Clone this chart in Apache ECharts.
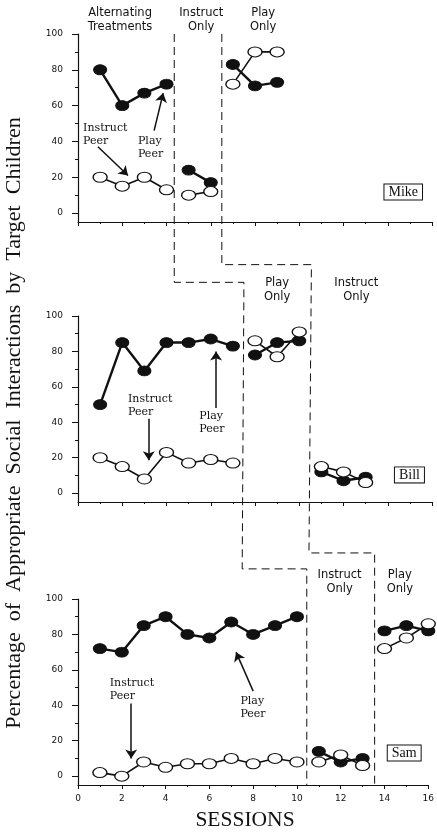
<!DOCTYPE html>
<html>
<head>
<meta charset="utf-8">
<script src="https://cdn.jsdelivr.net/npm/echarts@6/dist/echarts.min.js"></script>
<style>
html, body { margin: 0; padding: 0; background: #fff; }
#chart { width: 437px; height: 833px; }
</style>
</head>
<body>
<div id="chart"></div>
<script>
// --- data (percent per session) ---
var mikeSessions = [1, 2, 3, 4, 5, 6, 7, 8, 9];
var mikeFilled   = [80, 60, 67, 72, 24, 17, 83, 71, 73];
var mikeOpen     = [20, 15, 20, 13, 10, 12, 72, 90, 90];
var mikeBreaks   = [4, 6];   // last session of a phase

var billSessions = [1, 2, 3, 4, 5, 6, 7, 8, 9, 10, 11, 12, 13];
var billFilled   = [50, 85, 69, 85, 85, 87, 83, 78, 85, 86, 12, 7, 9];
var billOpen     = [20, 15, 8, 23, 17, 19, 17, 86, 77, 91, 15, 12, 6];
var billBreaks   = [7, 10];

var samSessions = [1, 2, 3, 4, 5, 6, 7, 8, 9, 10, 11, 12, 13, 14, 15, 16];
var samFilled   = [72, 70, 85, 90, 80, 78, 87, 80, 85, 90, 14, 8, 10, 82, 85, 82];
var samOpen     = [2, 0, 8, 5, 7, 7, 10, 7, 10, 8, 8, 12, 6, 72, 78, 86];
var samBreaks   = [10, 13];

var childNames = ['Mike', 'Bill', 'Sam'];
var phaseNames = [
  ['Alternating\nTreatments', 'Instruct\nOnly', 'Play\nOnly'],
  ['Play\nOnly', 'Instruct\nOnly'],
  ['Instruct\nOnly', 'Play\nOnly']
];
var yTickValues  = [0, 20, 40, 60, 80, 100];
var yMinorValues = [10, 30, 50, 70, 90];

// --- layout ---
var LEFT = 78, WIDTH = 354;
var tops = [34, 316, 599];
var heights = [188, 186, 186];
var ink = '#111';

// session where each dashed phase line runs, per panel
var phaseLines = [[4.35, 6.5], [7.5, 10.55], [10.45, 13.55]];
// y level (in next panel's units) of the horizontal steps
var stepLevels = [[119, 117], [129, 126]];
// header positions: [session center] and y value of the block center
var headerX = [[1.9, 5.57, 8.37], [9.0, 12.58], [11.95, 14.7]];
var headerY = [107.8, 114.5, 109.4];
// name boxes [session, value]
var namePos = [[14.7, 11.7], [14.98, 10.3], [14.9, 13]];
// annotation text [panel, text, session(left), value(top)]
var notes = [
  [0, 'Instruct\nPeer', 0.23, 51],
  [0, 'Play\nPeer', 2.71, 44],
  [1, 'Instruct\nPeer', 2.26, 57],
  [1, 'Play\nPeer', 5.48, 47],
  [2, 'Instruct\nPeer', 1.45, 56],
  [2, 'Play\nPeer', 7.42, 46]
];
// arrows [from, to] per panel
var arrows = [
  [[[0.9, 37], [2.26, 21]], [[3.44, 46], [3.85, 67]]],
  [[[3.2, 42], [3.2, 18.5]], [[6.24, 48], [6.24, 80]]],
  [[[2.43, 41], [2.43, 10]], [[8.0, 48], [7.22, 70]]]
];

function toData(sessions, values, breaks) {
  var out = [];
  for (var i = 0; i < sessions.length; i++) {
    out.push([sessions[i], values[i]]);
    if (breaks.indexOf(sessions[i]) >= 0) {
      out.push([sessions[i] + 0.5, '-']);
    }
  }
  return out;
}

var panels = [
  {filled: toData(mikeSessions, mikeFilled, mikeBreaks), open: toData(mikeSessions, mikeOpen, mikeBreaks)},
  {filled: toData(billSessions, billFilled, billBreaks), open: toData(billSessions, billOpen, billBreaks)},
  {filled: toData(samSessions, samFilled, samBreaks), open: toData(samSessions, samOpen, samBreaks)}
];

var grids = [], xAxes = [], yAxes = [], series = [];
for (var i = 0; i < 3; i++) {
  grids.push({left: LEFT, top: tops[i], width: WIDTH, height: heights[i]});
  xAxes.push({
    type: 'value', gridIndex: i, min: 0, max: 16, interval: 2,
    axisLine: {show: true, onZero: false, lineStyle: {color: ink, width: 1.2}},
    axisTick: {show: true, length: 4, lineStyle: {color: ink}},
    minorTick: {show: true, splitNumber: 2, length: 2, lineStyle: {color: ink}},
    axisLabel: {show: i === 2, margin: 9, color: ink, fontFamily: 'DejaVu Sans', fontSize: 9},
    splitLine: {show: false}
  });
  yAxes.push({
    type: 'value', gridIndex: i, min: -5, max: 100,
    axisLine: {show: true, onZero: false, lineStyle: {color: ink, width: 1.2}},
    axisTick: {show: true, length: 6, customValues: yTickValues, lineStyle: {color: ink}},
    axisLabel: {customValues: yTickValues, margin: 15, color: ink, fontFamily: 'DejaVu Sans', fontSize: 9},
    splitLine: {show: false}
  });
  yAxes.push({
    type: 'value', gridIndex: i, min: -5, max: 100, position: 'left',
    axisLine: {show: false},
    axisTick: {show: true, length: 3, customValues: yMinorValues, lineStyle: {color: ink}},
    axisLabel: {show: false},
    splitLine: {show: false}
  });

  var arrowData = arrows[i].map(function (a) {
    return [{coord: a[0]}, {coord: a[1]}];
  });

  series.push({
    type: 'line', xAxisIndex: i, yAxisIndex: 2 * i,
    data: panels[i].filled, connectNulls: false,
    symbol: 'circle', symbolSize: [13, 10],
    itemStyle: {color: ink, borderColor: ink},
    lineStyle: {color: ink, width: 2.4},
    z: 3, animation: false,
    markLine: {
      silent: true, symbol: ['none', 'arrow'], symbolSize: 9,
      lineStyle: {color: ink, width: 1.5, type: 'solid'},
      label: {show: false}, animation: false,
      data: arrowData
    }
  });
  series.push({
    type: 'line', xAxisIndex: i, yAxisIndex: 2 * i,
    data: panels[i].open, connectNulls: false,
    symbol: 'circle', symbolSize: [14, 10],
    itemStyle: {color: '#fff', borderColor: ink, borderWidth: 1.2},
    lineStyle: {color: ink, width: 1.6},
    z: 4, animation: false
  });
}

var chart = echarts.init(document.getElementById('chart'));
chart.setOption({
  backgroundColor: '#fff',
  animation: false,
  grid: grids,
  xAxis: xAxes,
  yAxis: yAxes,
  series: series
});

function px(g, x, y) {
  return chart.convertToPixel({gridIndex: g}, [x, y]);
}

var graphics = [];

// dashed phase-change staircases
for (var k = 0; k < 2; k++) {
  var a = px(0, phaseLines[0][k], 100);
  var b = px(1, phaseLines[0][k], stepLevels[k][0]);
  var c = px(1, phaseLines[1][k], stepLevels[k][0]);
  var d = px(2, phaseLines[1][k], stepLevels[k][1]);
  var e = px(2, phaseLines[2][k], stepLevels[k][1]);
  var f = px(2, phaseLines[2][k], -5);
  graphics.push({
    type: 'polyline', silent: true, z: 1,
    shape: {points: [[a[0], a[1]], [b[0], b[1]], [c[0], c[1]], [d[0], d[1]], [e[0], e[1]], [f[0], f[1]]]},
    style: {stroke: ink, lineWidth: 1, lineDash: [8, 5], fill: null}
  });
}

// phase headers
for (var p = 0; p < 3; p++) {
  for (var h = 0; h < phaseNames[p].length; h++) {
    var hp = px(p, headerX[p][h], headerY[p]);
    graphics.push({
      type: 'text', x: hp[0], y: hp[1], silent: true,
      style: {text: phaseNames[p][h], fill: ink, font: '11.5px "DejaVu Sans"',
              align: 'center', verticalAlign: 'middle', lineHeight: 14}
    });
  }
  // name box
  var np = px(p, namePos[p][0], namePos[p][1]);
  graphics.push({
    type: 'text', x: np[0], y: np[1], silent: true,
    style: {text: childNames[p], fill: ink, font: '14px "Liberation Serif"',
            align: 'center', verticalAlign: 'middle',
            borderColor: ink, borderWidth: 1, padding: [1, 4, 0, 4], backgroundColor: '#fff'}
  });
}

// arrow labels
notes.forEach(function (n) {
  var q = px(n[0], n[2], n[3]);
  graphics.push({
    type: 'text', x: q[0], y: q[1], silent: true,
    style: {text: n[1], fill: ink, font: '11px "DejaVu Serif"',
            align: 'left', verticalAlign: 'top', lineHeight: 13}
  });
});

// axis titles
graphics.push({
  type: 'text', x: 14, y: 423, rotation: Math.PI / 2, silent: true,
  style: {text: 'Percentage  of  Appropriate  Social  Interactions  by  Target  Children',
          fill: ink, font: '22px "Liberation Serif"', align: 'center', verticalAlign: 'middle'}
});
graphics.push({
  type: 'text', x: 245, y: 820, silent: true,
  style: {text: 'SESSIONS', fill: ink, font: '21.5px "Liberation Serif"',
          align: 'center', verticalAlign: 'middle'}
});

chart.setOption({graphic: graphics});
</script>
</body>
</html>
